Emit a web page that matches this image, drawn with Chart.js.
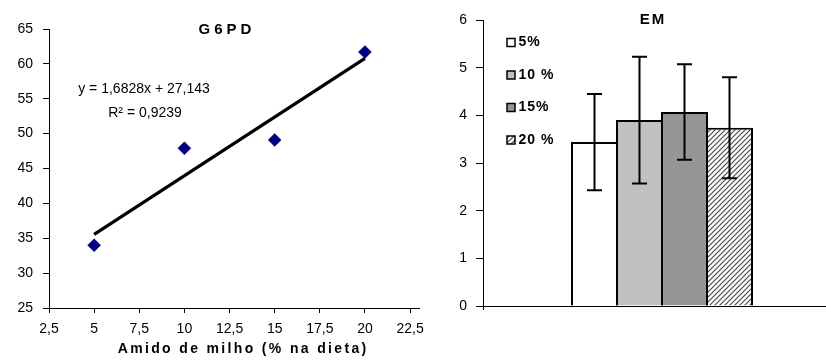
<!DOCTYPE html>
<html><head><meta charset="utf-8">
<script src="https://cdn.jsdelivr.net/npm/chart.js@4"></script>
<style>
html,body{margin:0;padding:0;background:#fff;overflow:hidden;width:826px;height:360px}
#left{position:absolute;left:0;top:0;width:432px;height:360px}
#right{position:absolute;left:420px;top:0;width:421px;height:360px}
</style></head><body>
<div id="left"><canvas id="c1" width="432" height="360"></canvas></div>
<div id="right"><canvas id="c2" width="421" height="360"></canvas></div>
<script>
// ---- Left chart data (G6PD) ----
const g6pdX = [5, 10, 15, 20];
const g6pdY = [34.0, 47.9, 49.1, 61.7];
const trendSlope = 1.6828;
const trendIntercept = 27.143;
const equationLines = ['y = 1,6828x + 27,143', 'R² = 0,9239'];
const g6pdTitle = 'G6PD';
const g6pdXTitle = 'Amido de milho (% na dieta)';
const g6pdXTicks = [2.5, 5, 7.5, 10, 12.5, 15, 17.5, 20, 22.5];
const g6pdYTicks = [25, 30, 35, 40, 45, 50, 55, 60, 65];

// ---- Right chart data (EM) ----
const emTitle = 'EM';
const emSeries = ['5%', '10 %', '15%', '20 %'];
const emMeans = [3.44, 3.90, 4.07, 3.74];
const emErrors = [1.01, 1.33, 1.00, 1.06];
const emYTicks = [0, 1, 2, 3, 4, 5, 6];

const FONT = '"Liberation Sans", Arial, sans-serif';
Chart.defaults.font.family = FONT;
Chart.defaults.color = '#000';

function fmt(v){ return String(v).replace('.', ','); }

function spacedText(ctx, text, x, y, spacing){
  ctx.letterSpacing = spacing + 'px';
  ctx.fillText(text, x + spacing/2, y);
  ctx.letterSpacing = '0px';
}

// ---------------- LEFT ----------------
const trendXs = [g6pdX[0], g6pdX[g6pdX.length-1]];
const trendPts = trendXs.map(x => ({x, y: trendSlope*x + trendIntercept}));

const leftPlugin = {
  id: 'leftText',
  afterDraw(chart){
    const ctx = chart.ctx;
    ctx.save();
    ctx.fillStyle = '#000';
    ctx.textAlign = 'center';
    ctx.textBaseline = 'middle';
    ctx.font = 'bold 15px ' + FONT;
    spacedText(ctx, g6pdTitle, 225, 30, 4);
    ctx.font = 'bold 14px ' + FONT;
    spacedText(ctx, g6pdXTitle, 242, 349, 2.35);
    ctx.font = '14px ' + FONT;
    ctx.fillText(equationLines[0], 144, 89);
    ctx.fillText(equationLines[1], 145, 113);
    ctx.restore();
  }
};

new Chart(document.getElementById('c1'), {
  type: 'scatter',
  data: {
    datasets: [
      { data: trendPts, showLine: true, borderColor: '#000', borderWidth: 3.2, pointRadius: 0, borderCapStyle: 'butt', order: 2 },
      { data: g6pdX.map((x,i)=>({x, y:g6pdY[i]})), pointStyle: 'rectRot', pointRadius: 6.5, pointBackgroundColor: '#000080', pointBorderColor: '#000080', pointBorderWidth: 0.5, order: 1 }
    ]
  },
  options: {
    responsive: false, animation: false,
    layout: { padding: { top: 29, right: 12, left: 0, bottom: 0 } },
    plugins: { legend: { display: false }, tooltip: { enabled: false } },
    scales: {
      x: {
        type: 'linear', min: 2.5, max: 23,
        afterBuildTicks: s => { s.ticks = g6pdXTicks.map(v => ({value: v})); },
        afterFit: s => { s.height = 52; },
        ticks: { callback: v => fmt(v), font: { size: 14 }, padding: 8, maxRotation: 0, autoSkip: false },
        grid: { drawOnChartArea: false, drawTicks: true, tickLength: 5, color: '#000', lineWidth: 1 },
        border: { color: '#000', width: 1 }
      },
      y: {
        type: 'linear', min: 25, max: 65,
        afterBuildTicks: s => { s.ticks = g6pdYTicks.map(v => ({value: v})); },
        afterFit: s => { s.width = 49; },
        ticks: { font: { size: 14 }, padding: 10 },
        grid: { drawOnChartArea: false, drawTicks: true, tickLength: 6, color: '#000', lineWidth: 1 },
        border: { color: '#000', width: 1 }
      }
    }
  },
  plugins: [leftPlugin]
});

// ---------------- RIGHT ----------------
function makeHatch(){
  const c = document.createElement('canvas'); c.width = 5; c.height = 5;
  const g = c.getContext('2d');
  g.fillStyle = '#fff'; g.fillRect(0,0,5,5);
  g.strokeStyle = '#4a4a4a'; g.lineWidth = 1.2;
  g.beginPath();
  g.moveTo(0,5); g.lineTo(5,0);
  g.moveTo(-1,1); g.lineTo(1,-1);
  g.moveTo(4,6); g.lineTo(6,4);
  g.stroke();
  return g.createPattern(c, 'repeat');
}
const hatch = makeHatch();
const emFills = ['#FFFFFF', '#C0C0C0', '#969696', hatch];

const rightPlugin = {
  id: 'rightExtras',
  afterDatasetsDraw(chart){
    const ctx = chart.ctx, ys = chart.scales.y;
    ctx.save();
    ctx.strokeStyle = '#000'; ctx.lineWidth = 2;
    emMeans.forEach((m, i) => {
      const bar = chart.getDatasetMeta(i).data[0];
      const x = bar.x;
      const yt = ys.getPixelForValue(m + emErrors[i]);
      const yb = ys.getPixelForValue(m - emErrors[i]);
      ctx.beginPath();
      ctx.moveTo(x, yt); ctx.lineTo(x, yb);
      ctx.moveTo(x-7.5, yt); ctx.lineTo(x+7.5, yt);
      ctx.moveTo(x-7.5, yb); ctx.lineTo(x+7.5, yb);
      ctx.stroke();
    });
    ctx.restore();
  },
  afterDraw(chart){
    const ctx = chart.ctx;
    ctx.save();
    ctx.fillStyle = '#000';
    ctx.textAlign = 'center'; ctx.textBaseline = 'middle';
    ctx.font = 'bold 15px ' + FONT;
    spacedText(ctx, emTitle, 232, 20, 2);
    ctx.textAlign = 'left';
    ctx.font = 'bold 14px ' + FONT;
    emSeries.forEach((s, i) => {
      const cy = 42.5 + i*32.5;
      ctx.fillStyle = emFills[i];
      ctx.fillRect(87, cy-4, 8, 8);
      ctx.strokeStyle = '#000'; ctx.lineWidth = 1.5;
      ctx.strokeRect(87, cy-4, 8, 8);
      ctx.fillStyle = '#000';
      ctx.letterSpacing = '1px';
      ctx.fillText(s, 98.5, cy);
      ctx.letterSpacing = '0px';
    });
    ctx.restore();
  }
};

new Chart(document.getElementById('c2'), {
  type: 'bar',
  data: {
    labels: [''],
    datasets: emSeries.map((s, i) => ({
      label: s, data: [emMeans[i]],
      backgroundColor: emFills[i], borderColor: '#000', borderWidth: 2,
      categoryPercentage: 0.5028, barPercentage: 1.0444
    }))
  },
  options: {
    responsive: false, animation: false,
    layout: { padding: { top: 20, right: 0, left: 0, bottom: 0 } },
    plugins: { legend: { display: false }, tooltip: { enabled: false } },
    scales: {
      x: {
        afterFit: s => { s.height = 54; },
        ticks: { display: true, font: { size: 14 } },
        grid: { drawOnChartArea: false, drawTicks: true, tickLength: 4, color: '#000', offset: true },
        border: { color: '#000', width: 1 }
      },
      y: {
        min: 0, max: 6,
        afterBuildTicks: s => { s.ticks = emYTicks.map(v => ({value: v})); },
        afterFit: s => { s.width = 63; },
        ticks: { font: { size: 14 }, padding: 9 },
        grid: { drawOnChartArea: false, drawTicks: true, tickLength: 7, color: '#000' },
        border: { color: '#000', width: 1 }
      }
    }
  },
  plugins: [rightPlugin]
});
</script>
</body></html>
